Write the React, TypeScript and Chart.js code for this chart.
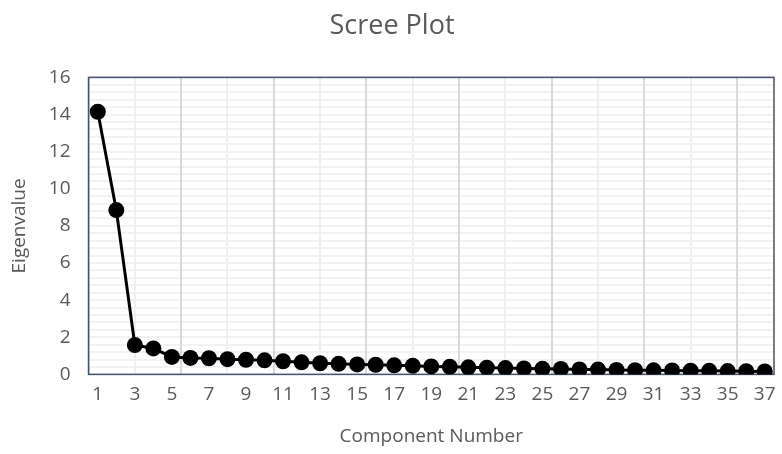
import React, { useEffect, useRef } from "react";
import { Chart, registerables } from "chart.js";

Chart.register(...registerables);

const components: number[] = Array.from({ length: 37 }, (_, i) => i + 1);
const eigenvalues: number[] = [
  14.15, 8.85, 1.58, 1.4, 0.94, 0.89, 0.87, 0.82, 0.79, 0.76,
  0.71, 0.65, 0.6, 0.57, 0.54, 0.52, 0.49, 0.46, 0.43, 0.41,
  0.38, 0.36, 0.34, 0.32, 0.3, 0.29, 0.27, 0.26, 0.24, 0.23,
  0.22, 0.21, 0.2, 0.19, 0.18, 0.17, 0.16,
];
const xTickLabels: number[] = components.filter((c) => c % 2 === 1);
const xGridValues: number[] = Array.from({ length: 15 }, (_, k) => 0.5 + 2.5 * k);
const yTickStep = 2;
const yGridStep = 0.4;

const FONT = "'Open Sans', 'Liberation Sans', sans-serif";
const TEXT = "#595959";

const framePlugin = {
  id: "frame",
  beforeDatasetsDraw(chart: any) {
    const { ctx, chartArea } = chart;
    ctx.save();
    ctx.strokeStyle = "#44546a";
    ctx.lineWidth = 1.5;
    ctx.strokeRect(chartArea.left, chartArea.top, chartArea.right - chartArea.left, chartArea.bottom - chartArea.top);
    ctx.restore();
  },
};

export default function App() {
  const ref = useRef<HTMLCanvasElement | null>(null);
  useEffect(() => {
    document.body.style.margin = "0";
    const chart = new Chart(ref.current!, {
      type: "line",
      data: {
        datasets: [
          {
            data: components.map((c, i) => ({ x: c, y: eigenvalues[i] })),
            borderColor: "#000000",
            backgroundColor: "#000000",
            borderWidth: 3,
            pointRadius: 8,
            pointHoverRadius: 8,
            pointBorderWidth: 0,
            xAxisID: "x",
            yAxisID: "y",
          },
        ],
      },
      plugins: [framePlugin],
      options: {
        animation: false,
        responsive: false,
        maintainAspectRatio: false,
        layout: { padding: { left: 8, right: 6, top: 4, bottom: 6 } },
        plugins: {
          legend: { display: false },
          tooltip: { enabled: false },
          title: {
            display: true,
            text: "Scree Plot",
            color: TEXT,
            font: { family: FONT, size: 27, weight: "normal" },
            padding: { top: 6, bottom: 35 },
          },
        },
        scales: {
          yg: {
            type: "linear",
            position: "left",
            min: 0,
            max: 16,
            ticks: { display: false, stepSize: yGridStep },
            afterFit: (s: any) => {
              s.width = 0;
            },
            border: { display: false },
            grid: { drawTicks: false, lineWidth: 2, color: "#f2f2f2" },
          },
          xg: {
            type: "linear",
            position: "bottom",
            min: 0.5,
            max: 37.5,
            afterBuildTicks: (s: any) => {
              s.ticks = xGridValues.map((v) => ({ value: v }));
            },
            afterFit: (s: any) => {
              s.height = 0;
            },
            ticks: { display: false },
            border: { display: false },
            grid: {
              drawTicks: false,
              lineWidth: 2,
              color: (c: any) => (c.index % 2 === 0 ? "#d9d9d9" : "#f0f0f0"),
            },
          },
          x: {
            type: "linear",
            position: "bottom",
            min: 0.5,
            max: 37.5,
            afterBuildTicks: (s: any) => {
              s.ticks = xTickLabels.map((v) => ({ value: v }));
            },
            grid: { display: false },
            border: { display: false },
            ticks: {
              color: TEXT,
              font: { family: FONT, size: 19 },
              padding: 1,
              maxRotation: 0,
              autoSkip: false,
            },
            title: {
              display: true,
              text: "Component Number",
              color: TEXT,
              font: { family: FONT, size: 19 },
              padding: { top: 18, bottom: 0 },
            },
          },
          y: {
            type: "linear",
            position: "left",
            min: 0,
            max: 16,
            grid: { display: false },
            border: { display: false },
            ticks: {
              stepSize: yTickStep,
              color: TEXT,
              font: { family: FONT, size: 19 },
              padding: 10,
            },
            title: {
              display: true,
              text: "Eigenvalue",
              color: TEXT,
              font: { family: FONT, size: 19 },
              padding: { top: 0, bottom: 8 },
            },
          },
        },
      },
    } as any);
    return () => chart.destroy();
  }, []);
  return (
    <div style={{ width: 782, height: 454 }}>
      <canvas ref={ref} width={782} height={454} />
    </div>
  );
}
